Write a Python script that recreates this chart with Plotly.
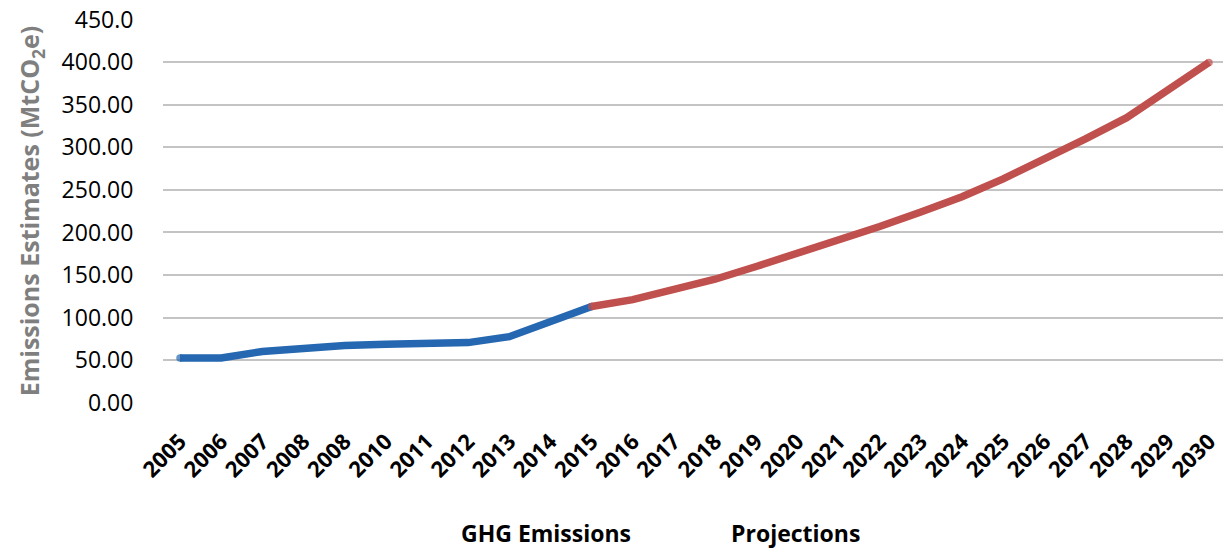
import plotly.graph_objects as go

years = ["2005", "2006", "2007", "2008", "2008", "2010", "2011", "2012", "2013",
         "2014", "2015", "2016", "2017", "2018", "2019", "2020", "2021", "2022",
         "2023", "2024", "2025", "2026", "2027", "2028", "2029", "2030"]

ghg_years_idx = list(range(0, 11))
ghg_values = [52.5, 52.5, 60.0, 64.5, 67.0, 68.5, 70.0, 70.5, 77.5, 95.0, 113.0]

proj_years_idx = list(range(10, 26))
proj_values = [113.0, 121.0, 133.0, 145.0, 160.0, 175.0, 191.0, 207.0, 224.0,
               242.0, 263.0, 286.0, 310.0, 335.0, 367.0, 400.0]

y_tick_vals = [0, 50, 100, 150, 200, 250, 300, 350, 400, 450]
y_tick_text = ["0.00", "50.00", "100.00", "150.00", "200.00", "250.00",
               "300.00", "350.00", "400.00", "450.0"]

legend_names = ["GHG Emissions", "Projections"]

BLUE = "#2567B1"
RED = "#C0504D"
FONT = "Open Sans"


def cap_sizes(n, s):
    return [s if i in (0, n - 1) else 0 for i in range(n)]


fig = go.Figure()
fig.add_trace(go.Scatter(
    x=ghg_years_idx, y=ghg_values, mode="lines+markers", name=legend_names[0],
    line=dict(color=BLUE, width=7.5),
    marker=dict(size=cap_sizes(len(ghg_values), 7.5), color=BLUE, line=dict(width=0)),
    showlegend=False,
))
fig.add_trace(go.Scatter(
    x=proj_years_idx, y=proj_values, mode="lines+markers", name=legend_names[1],
    line=dict(color=RED, width=7.5),
    marker=dict(size=cap_sizes(len(proj_values), 7.5), color=RED, line=dict(width=0)),
    showlegend=False,
))

fig.update_layout(
    width=1223, height=548,
    margin=dict(l=163, r=0, t=19, b=145),
    paper_bgcolor="white", plot_bgcolor="white",
    font=dict(family=FONT, color="black"),
    showlegend=False,
)

fig.update_xaxes(
    range=[-0.413, 25.34],
    tickmode="array", tickvals=list(range(len(years))), ticktext=years,
    tickangle=-45, tickfont=dict(family=FONT, size=22, color="black", weight="bold"),
    showgrid=False, zeroline=False, showline=False,
    ticks="outside", ticklen=16, tickcolor="rgba(0,0,0,0)",
)
fig.update_yaxes(
    range=[-0.5, 451],
    tickmode="array", tickvals=y_tick_vals, ticktext=y_tick_text,
    tickfont=dict(family=FONT, size=23, color="black"),
    showgrid=True, gridcolor="#C4C4C4", gridwidth=1.5,
    zeroline=False, showline=False,
    ticks="outside", ticklen=24, tickcolor="rgba(0,0,0,0)",
    title=dict(text="Emissions Estimates (MtCO<sub>2</sub>e)",
               font=dict(family=FONT, size=25, color="#7F7F7F", weight="bold"),
               standoff=14),
)

for name, xc in zip(legend_names, [546, 795]):
    fig.add_annotation(
        text=name, xref="paper", yref="paper",
        x=(xc - 163) / 1060, y=-(533 - 403) / 384,
        xanchor="center", yanchor="middle", showarrow=False,
        font=dict(family=FONT, size=23, color="black", weight="bold"),
    )

fig.write_html("out.html", config={"displayModeBar": False},
               post_script="document.body.style.margin='0';document.body.style.padding='0';")
